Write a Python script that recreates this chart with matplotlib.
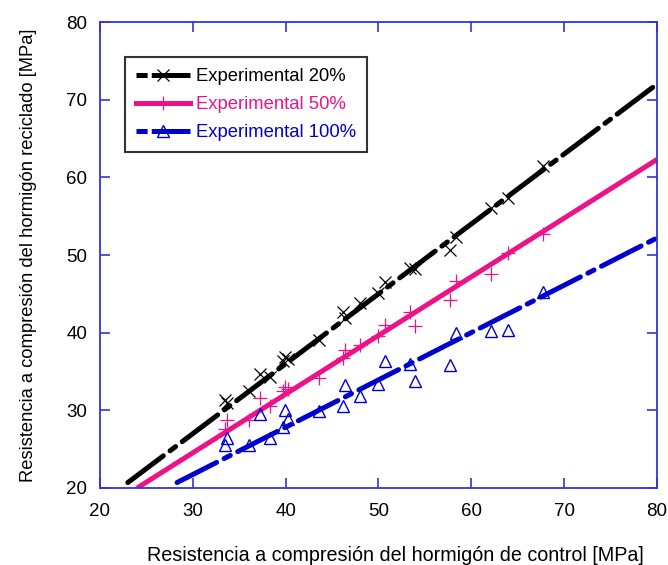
import matplotlib
matplotlib.use("Agg")
import matplotlib.pyplot as plt
from matplotlib.lines import Line2D

plt.rcParams['font.family'] = ['Liberation Sans', 'DejaVu Sans']
plt.rcParams['lines.scale_dashes'] = False

# Compressive strength of the control concrete [MPa]
control = [33.5, 33.7, 36.1, 37.2, 38.3, 39.7, 39.9, 40.2, 43.6, 46.2, 46.4,
           48.0, 50.0, 50.7, 53.4, 53.9, 57.7, 58.4, 62.1, 64.0, 67.7]

# Recycled concrete strength for each replacement ratio [MPa]
rec20 = [31.3, 31.0, 32.5, 34.7, 34.3, 36.3, 36.9, 36.6, 39.0, 42.6, 41.9,
         43.8, 45.1, 46.5, 48.3, 48.2, 50.7, 52.3, 56.0, 57.4, 61.5]
rec50 = [27.6, 28.8, 28.8, 31.6, 30.6, 32.5, 33.0, 32.7, 34.1, 36.7, 37.8,
         38.4, 39.6, 41.0, 42.7, 40.8, 44.2, 46.6, 47.6, 50.2, 52.7]
rec100 = [25.5, 26.4, 25.5, 29.5, 26.5, 27.8, 30.1, 28.9, 29.9, 30.6, 33.3,
          31.8, 33.4, 36.4, 36.0, 33.8, 35.8, 39.9, 40.2, 40.3, 45.2]

# Fitted trend lines (end points)
fit20_x, fit20_y = [23.0, 80.0], [20.7, 72.0]
fit50_x, fit50_y = [24.0, 80.0], [20.0, 62.3]
fit100_x, fit100_y = [28.3, 80.0], [20.7, 52.2]

labels = ['Experimental 20%', 'Experimental 50%', 'Experimental 100%']

x_ticks = [20, 30, 40, 50, 60, 70, 80]
y_ticks = [20, 30, 40, 50, 60, 70, 80]

c_black = '#000000'
c_pink = '#EE1289'
c_blue = '#0000CC'
c_axis = '#3333DD'

dashdot = (0, (32, 6, 5, 6))

fig = plt.figure(figsize=(6.68, 5.65), dpi=100)
ax = fig.add_axes([0.1497, 0.1363, 0.8338, 0.8247])

ax.plot(fit20_x, fit20_y, color=c_black, lw=3.6, ls=dashdot, dash_capstyle='round')
ax.plot(fit50_x, fit50_y, color=c_pink, lw=3.6, ls='-', solid_capstyle='butt')
ax.plot(fit100_x, fit100_y, color=c_blue, lw=3.6, ls=dashdot, dash_capstyle='round')

ax.plot(control, rec20, ls='none', marker='x', ms=9, mew=0.9, color=c_black)
ax.plot(control, rec50, ls='none', marker='+', ms=10, mew=0.9, color=c_pink)
ax.plot(control, rec100, ls='none', marker='^', ms=9, mew=1.0, mfc='none', mec=c_blue)

ax.set_xlim(20, 80)
ax.set_ylim(20, 80)
ax.set_xticks(x_ticks)
ax.set_yticks(y_ticks)

for sp in ax.spines.values():
    sp.set_color(c_axis)
    sp.set_linewidth(1.3)
ax.tick_params(axis='both', which='both', direction='in', length=7, width=1.2,
               color=c_axis, top=True, right=True, labelsize=13.5, labelcolor='black')
ax.tick_params(axis='x', pad=11)
ax.tick_params(axis='y', pad=9)

ax.set_xlabel('Resistencia a compresión del hormigón de control [MPa]', fontsize=14.2)
ax.xaxis.set_label_coords(0.53, -0.124)
ax.set_ylabel('Resistencia a compresión del hormigón reciclado [MPa]', fontsize=13.2, labelpad=21)

handles = [
    Line2D([], [], color=c_black, lw=3.6, ls=(0, (8, 3, 30, 6)), marker='x', ms=9, mew=0.9),
    Line2D([], [], color=c_pink, lw=3.6, ls='-', marker='+', ms=10, mew=0.9),
    Line2D([], [], color=c_blue, lw=3.6, ls=(0, (8, 3, 30, 6)), marker='^', ms=8, mew=1.0,
           mfc='none', mec=c_blue),
]
leg = ax.legend(handles, labels, loc='upper left', bbox_to_anchor=(0.045, 0.925),
                fontsize=13.3, frameon=True, fancybox=False, handlelength=2.9,
                handletextpad=0.35, labelspacing=0.6, borderpad=0.6, borderaxespad=0)
leg.get_frame().set_edgecolor('black')
leg.get_frame().set_linewidth(1.5)
for txt, col in zip(leg.get_texts(), [c_black, c_pink, c_blue]):
    txt.set_color(col)

fig.savefig('out.png', dpi=100)
